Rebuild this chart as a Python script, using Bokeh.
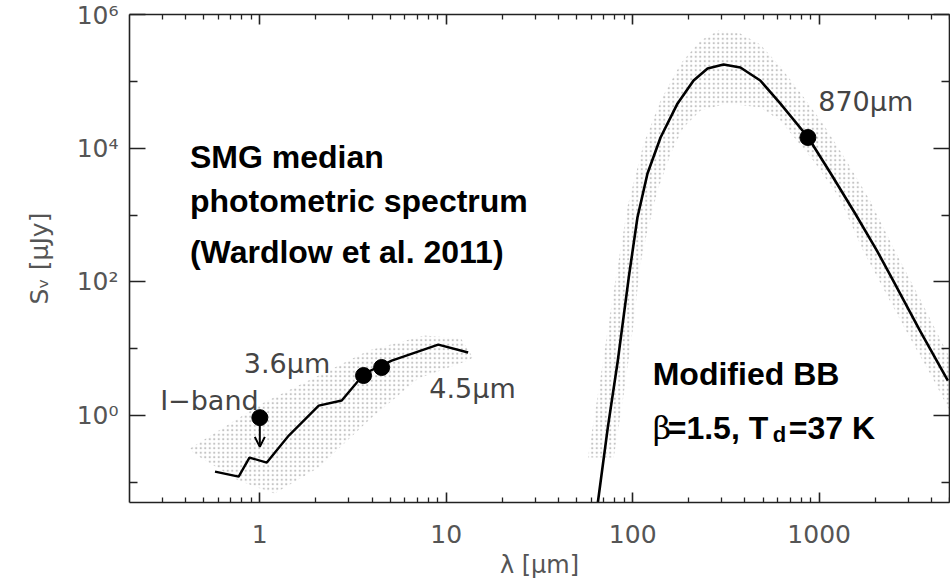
from bokeh.plotting import figure
from bokeh.models import LogAxis, FixedTicker, Arrow, OpenHead, Range1d, Label
from bokeh.embed import file_html
from bokeh.resources import INLINE

# ---------------- data ----------------
# near-IR median SED (stellar part)
nir_wavelength = [0.575, 0.77, 0.88, 1.09, 1.43, 2.07, 2.75, 3.64, 5.1, 9.06, 13.1]
nir_flux = [0.145, 0.122, 0.235, 0.198, 0.502, 1.41, 1.68, 4.25, 6.65, 11.5, 8.77]

# near-IR uncertainty band
nir_band_upper_wl = [0.422, 1.025, 2.07, 3.83, 7.63, 12.0, 13.9]
nir_band_upper_flux = [0.321, 1.51, 3.97, 9.4, 15.7, 14.2, 7.38]
nir_band_lower_wl = [13.1, 7.08, 3.83, 2.07, 1.20, 0.772, 0.443]
nir_band_lower_flux = [6.65, 3.58, 0.84, 0.167, 0.068, 0.106, 0.27]

# modified black body (beta=1.5, Td=37 K)
bb_wavelength = [65.0, 73.5, 83.2, 95.2, 106, 120, 141, 174, 212, 252, 307, 378,
                 483, 618, 873, 1145, 1559, 2040, 2490, 3470, 4900]
bb_flux = [0.050, 0.66, 6.65, 116, 918, 4180, 14450, 46700, 103000, 156000, 179000,
           161000, 103000, 46700, 14450, 4330, 1054, 294, 105, 18.7, 3.34]

# modified black body uncertainty band
bb_band_outer_wl = [57.5, 67.4, 79.1, 94.0, 114.5, 141, 181, 231, 289, 378, 483, 618,
                    791, 1038, 1377, 1875, 2548, 3467, 5000]
bb_band_outer_flux = [0.235, 3.97, 74.2, 1387, 11750, 51700, 185000, 408000, 577000,
                      520000, 356000, 167000, 68100, 24200, 7010, 1648, 294, 56.3, 7.38]
bb_band_inner_wl = [5000, 4121, 2918, 2094, 1718, 1280, 929, 735, 618, 483, 322, 231,
                    187, 160, 136, 120, 110, 100, 88.5, 79.1]
bb_band_inner_flux = [1.19, 3.34, 18.7, 105, 294, 1828, 6545, 14450, 25900, 40600,
                      46700, 36600, 20400, 8320, 2327, 587, 188, 18.7, 1.68, 0.235]

# photometry
phot_wavelength = [1.0, 3.6, 4.5, 870]
phot_flux = [0.93, 3.97, 5.23, 14450]
iband_limit_flux = 0.34

# axes
x_major_ticks = [1, 10, 100, 1000]
x_minor_ticks = [0.3, 0.4, 0.5, 0.6, 0.7, 0.8, 0.9,
                 2, 3, 4, 5, 6, 7, 8, 9,
                 20, 30, 40, 50, 60, 70, 80, 90,
                 200, 300, 400, 500, 600, 700, 800, 900,
                 2000, 3000, 4000, 5000]
x_tick_labels = {1: "1", 10: "10", 100: "100", 1000: "1000"}
y_major_ticks = [1, 100, 10000, 1000000]
y_minor_ticks = [0.1, 10, 1000, 100000]
y_tick_labels = {1: "10⁰", 100: "10²", 10000: "10⁴", 1000000: "10⁶"}

# ---------------- figure ----------------
p = figure(width=950, height=588, x_axis_type="log", y_axis_type="log",
           x_range=Range1d(0.2, 5000), y_range=Range1d(0.05, 1e6),
           output_backend="svg", toolbar_location=None,
           min_border_left=129, min_border_right=1, min_border_top=14, min_border_bottom=86)
p.grid.visible = False
p.outline_line_color = None
p.background_fill_color = "white"
p.border_fill_color = "white"

AX_COL = "#222222"
LBL_COL = "#555555"

def style_axis(ax, tick_in_major, tick_in_minor, labels=True):
    ax.axis_line_color = AX_COL
    ax.axis_line_width = 1.6
    ax.major_tick_line_color = AX_COL
    ax.minor_tick_line_color = AX_COL
    ax.major_tick_line_width = 1.6
    ax.minor_tick_line_width = 1.3
    ax.major_tick_in = tick_in_major
    ax.major_tick_out = 0
    ax.minor_tick_in = tick_in_minor
    ax.minor_tick_out = 0
    if labels:
        ax.major_label_text_font = "DejaVu Sans"
        ax.major_label_text_font_size = "25px"
        ax.major_label_text_color = LBL_COL
    else:
        ax.major_label_text_font_size = "1px"
        ax.major_label_text_alpha = 0
        ax.major_label_standoff = 0

xt = FixedTicker(ticks=x_major_ticks, minor_ticks=x_minor_ticks)
yt = FixedTicker(ticks=y_major_ticks, minor_ticks=y_minor_ticks)

xb = p.xaxis[0]
xb.ticker = xt
xb.major_label_overrides = x_tick_labels
style_axis(xb, 10, 5)
xb.major_label_standoff = 22
xb.axis_label = "λ [μm]"
xb.axis_label_text_font = "DejaVu Sans"
xb.axis_label_text_font_size = "24px"
xb.axis_label_text_font_style = "normal"
xb.axis_label_text_color = LBL_COL
xb.axis_label_standoff = 5

yl = p.yaxis[0]
yl.ticker = yt
yl.major_label_overrides = y_tick_labels
style_axis(yl, 16, 8)
yl.major_label_standoff = 11
yl.major_label_orientation = "horizontal"
yl.axis_label = "Sᵥ [μJy]"
yl.axis_label_text_font = "DejaVu Sans"
yl.axis_label_text_font_size = "25px"
yl.axis_label_text_font_style = "normal"
yl.axis_label_text_color = LBL_COL
yl.axis_label_standoff = 20

top = LogAxis(ticker=FixedTicker(ticks=x_major_ticks, minor_ticks=x_minor_ticks))
style_axis(top, 10, 5, labels=False)
p.add_layout(top, "above")
right = LogAxis(ticker=FixedTicker(ticks=y_major_ticks, minor_ticks=y_minor_ticks))
style_axis(right, 16, 8, labels=False)
p.add_layout(right, "right")

# ---------------- bands ----------------
p.patch(nir_band_upper_wl + nir_band_lower_wl, nir_band_upper_flux + nir_band_lower_flux,
        fill_color=None, line_color=None, hatch_pattern="dot", hatch_color="#c4c4c4",
        hatch_scale=4.5, hatch_weight=1.1)
p.patch(bb_band_outer_wl + bb_band_inner_wl, bb_band_outer_flux + bb_band_inner_flux,
        fill_color=None, line_color=None, hatch_pattern="dot", hatch_color="#c4c4c4",
        hatch_scale=4.5, hatch_weight=1.1)

# ---------------- curves and points ----------------
p.line(nir_wavelength, nir_flux, line_color="black", line_width=2.4)
p.line(bb_wavelength, bb_flux, line_color="black", line_width=2.6)
p.scatter(phot_wavelength, phot_flux, size=16, color="black")
p.add_layout(Arrow(end=OpenHead(size=10, line_width=2, line_color="black"),
                   x_start=phot_wavelength[0], y_start=phot_flux[0],
                   x_end=phot_wavelength[0], y_end=iband_limit_flux,
                   line_width=2, line_color="black"))

# ---------------- labels ----------------
def small(txt, x, y):
    p.add_layout(Label(x=x, y=y, text=txt, text_font="DejaVu Sans", text_font_size="27px",
                       text_color="#444444", text_baseline="alphabetic"))

small("870μm", 988, 49900)
small("3.6μm", 0.821, 6.0)
small("I−band", 0.292, 1.68)
small("4.5μm", 8.11, 2.54)

def big(txt, x, y, xo=0, yo=0, size="32px", style="bold", font="Liberation Sans"):
    p.add_layout(Label(x=x, y=y, x_offset=xo, y_offset=yo, text=txt, text_font=font,
                       text_font_size=size, text_font_style=style, text_color="black",
                       text_baseline="alphabetic"))

big("SMG median", 0.422, 7260)
big("photometric spectrum", 0.422, 1648)
big("(Wardlow et al. 2011)", 0.422, 275)
big("Modified BB", 128, 4.25)
big("β", 128, 0.66, style="normal", font="DejaVu Serif")
big("=1.5, T", 128, 0.66, xo=15)
big("d", 128, 0.66, xo=120, yo=-7, size="22px")
big("=37 K", 128, 0.66, xo=136)

open("out.html", "w").write(file_html(p, INLINE))
